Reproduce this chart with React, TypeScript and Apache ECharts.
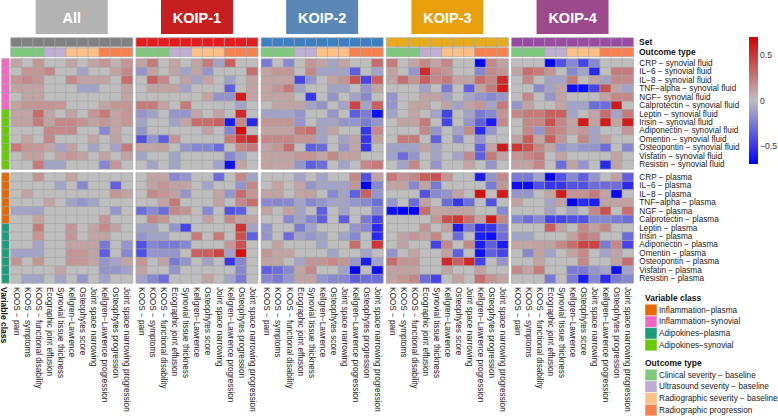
import React, { useEffect, useRef } from 'react';
import * as echarts from 'echarts';

const panels = ['All', 'KOIP-1', 'KOIP-2', 'KOIP-3', 'KOIP-4'];
const columns = [
  'KOOS − pain', 'KOOS − symptoms', 'KOOS − functional disability', 'Ecographic joint effusion',
  'Synovial tissue thickness', 'Kellgren−Lawrence', 'Osteophytes score', 'Joint space narrowing',
  'Kellgren−Lawrence progression', 'Osteophytes progression', 'Joint space narrowing progression',
];
const outcomeTypes = ['Clinical severity − baseline', 'Ultrasound severity − baseline', 'Radiographic severity − baseline', 'Radiographic progression'];
const outcomeTypeOfColumn = [0, 0, 0, 1, 1, 2, 2, 2, 3, 3, 3];
const variableClasses = ['Inflammation−plasma', 'Inflammation−synovial', 'Adipokines−plasma', 'Adipokines−synovial'];
const synovialRows = [
  'CRP − synovial fluid', 'IL−6 − synovial fluid', 'IL−8 − synovial fluid', 'TNF−alpha − synovial fluid',
  'NGF− synovial fluid', 'Calprotectin − synovial fluid', 'Leptin − synovial fluid', 'Irisin − synovial fluid',
  'Adiponectin − synovial fluid', 'Omentin − synovial fluid', 'Osteopontin − synovial fluid',
  'Visfatin − synovial fluid', 'Resistin − synovial fluid',
];
const plasmaRows = [
  'CRP − plasma', 'IL−6 − plasma', 'IL−8 − plasma', 'TNF−alpha − plasma', 'NGF − plasma',
  'Calprotectin − plasma', 'Leptin − plasma', 'Irisin − plasma', 'Adiponectin − plasma',
  'Omentin − plasma', 'Osteopontin − plasma', 'Visfatin − plasma', 'Resistin − plasma',
];
const synovialClass = [1, 1, 1, 1, 1, 1, 3, 3, 3, 3, 3, 3, 3];
const plasmaClass = [0, 0, 0, 0, 0, 0, 2, 2, 2, 2, 2, 2, 2];
const colorTicks = [0.5, 0, -0.5];

const allSynovial = [
  [0.1, 0, 0.15, 0, 0, 0.1, 0, 0.1, 0.15, 0.05, 0.15],
  [0, 0.15, 0.15, 0.2, 0, 0, -0.1, 0, 0, 0.1, 0.2],
  [0.15, 0.2, 0.15, 0, 0, 0.2, 0.1, 0.1, 0.1, 0, 0.3],
  [0.1, 0.1, 0.1, 0, 0, 0, -0.1, -0.1, 0, 0, 0.1],
  [0, 0.1, 0.1, 0, 0, 0, 0, 0, 0, 0, 0.1],
  [0.1, 0.15, 0.15, 0.15, 0.15, 0, 0, 0, 0.1, 0.15, 0.15],
  [0.1, 0.1, 0.3, 0.1, 0, 0.1, 0, 0.15, 0.25, 0.1, 0.15],
  [0.1, 0.1, 0.25, 0.1, 0.2, 0.2, 0.15, 0.1, 0.15, 0.1, 0.15],
  [0, 0, 0, 0.2, 0.2, 0.2, 0, 0, -0.2, 0.1, 0],
  [0, 0.1, 0, 0.2, 0, 0, 0, 0.1, 0, 0.1, 0],
  [0.25, 0.15, 0.15, 0.1, -0.1, 0.1, 0, -0.1, 0, -0.1, 0.25],
  [0, 0.1, 0.1, 0, 0.1, 0.15, 0.1, 0, 0.1, 0, 0.1],
  [0, 0, 0.25, -0.1, -0.1, 0, 0, 0, -0.2, 0.15, 0],
];
const allPlasma = [
  [0, 0, 0.15, 0, 0, 0.1, 0, 0, 0, 0, 0],
  [0, 0, 0, 0, -0.1, 0, -0.2, 0, 0, -0.35, 0],
  [0, 0.1, 0, 0, 0, 0, 0, 0, 0, 0.15, 0.1],
  [0, 0, 0, 0.1, 0, -0.1, -0.15, -0.1, 0, 0, 0],
  [-0.1, -0.1, -0.1, 0, 0, 0, 0, 0, 0, -0.15, 0],
  [0, 0, 0.1, 0, 0, 0, 0, 0, 0.15, 0, 0],
  [0, 0, 0.25, 0, 0, 0.15, 0, 0.1, 0.2, 0.1, 0],
  [0, 0, 0.15, 0, 0, 0.15, 0, 0.1, 0.1, 0, 0],
  [0, 0, -0.1, 0, 0, 0.1, 0.1, 0.1, -0.25, 0, -0.15],
  [-0.1, -0.1, -0.1, 0, 0, 0.15, 0.15, 0.1, -0.35, 0, -0.2],
  [0.15, 0, 0.15, 0, 0, 0.15, 0.15, 0.1, -0.15, -0.1, 0.1],
  [0, 0, 0, 0, 0.1, 0, 0, 0, -0.15, -0.15, -0.1],
  [0, -0.1, -0.1, 0, -0.1, 0, -0.15, 0, -0.1, 0, 0],
];
const koip1Synovial = [
  [0.1, 0.25, 0, 0.1, 0, 0.1, 0.25, -0.1, 0.35, 0, 0],
  [-0.15, 0.1, 0, 0.1, -0.1, 0.1, -0.15, 0, 0, 0, 0.3],
  [0, 0.35, 0.2, 0, 0.1, -0.1, 0.1, 0, -0.1, 0, 0.1],
  [0, 0.1, 0.1, 0.1, -0.1, 0, 0, 0, -0.35, 0, 0.1],
  [0, 0, 0, 0, 0, 0, 0.1, -0.15, -0.15, 0.6, 0.1],
  [0.25, 0.25, 0.1, 0, 0.25, 0, 0, 0, 0, -0.1, 0],
  [-0.15, -0.1, 0, -0.15, -0.15, 0.1, 0, 0.1, 0, 0.55, 0],
  [-0.1, 0, 0, -0.1, 0.1, 0.3, 0.3, 0.35, -0.6, 0.2, -0.55],
  [-0.15, 0, 0, 0, 0, 0, 0.1, 0, -0.2, 0.65, 0],
  [-0.4, -0.15, -0.35, 0.15, 0, 0, 0, 0, 0.25, 0.5, 0.55],
  [0.1, 0.1, 0.1, 0, -0.15, -0.2, -0.2, -0.3, 0, 0.2, 0.25],
  [-0.1, 0, 0, -0.1, 0, 0, 0, 0, -0.2, -0.1, 0],
  [0, -0.1, 0, -0.1, 0, 0, 0, -0.1, -0.65, 0.1, 0],
];
const koip1Plasma = [
  [0, 0.1, 0.1, -0.2, -0.15, 0, 0, -0.3, 0, 0.2, -0.1],
  [0, 0.1, 0.15, 0.1, 0.1, 0, -0.1, 0, 0, -0.15, 0.2],
  [0, 0.2, 0.15, 0.1, -0.15, 0, 0, 0.1, -0.15, 0.3, 0.15],
  [0, 0, 0.1, 0.25, 0, 0, 0, 0.1, 0, 0.2, 0.3],
  [-0.3, -0.2, -0.3, 0.2, 0.15, 0, -0.2, 0, -0.4, -0.35, 0],
  [0, 0.2, 0.15, 0, 0, 0, 0.1, 0, 0.2, 0.1, 0.1],
  [-0.1, -0.1, 0, -0.15, -0.45, 0, 0, 0, 0, 0.5, -0.1],
  [-0.15, -0.1, -0.1, 0, 0, 0.25, 0, 0.25, 0, 0.4, -0.35],
  [-0.4, -0.2, -0.25, -0.25, -0.2, 0, 0, 0, 0.15, 0.4, 0],
  [-0.4, -0.15, -0.15, -0.15, 0, 0.35, 0.35, 0.45, -0.1, 0.65, 0],
  [0.15, 0, 0.1, -0.25, -0.15, 0, -0.1, 0, -0.5, -0.2, 0],
  [0.1, 0, 0, -0.15, 0, 0, 0, 0, 0, -0.2, 0],
  [-0.1, -0.2, -0.3, 0, 0, 0, 0.1, 0, -0.1, -0.25, 0],
];
const koip2Synovial = [
  [-0.25, 0, -0.2, 0, 0.15, 0.1, -0.1, 0.1, 0, 0, 0.3],
  [0.1, 0.15, 0.15, 0, 0.2, -0.1, -0.1, -0.1, -0.35, 0, -0.1],
  [0.1, 0.1, 0.1, -0.45, -0.15, 0, 0.1, 0.15, 0.4, -0.45, 0.35],
  [0.1, 0.15, 0.25, -0.1, 0, 0, -0.1, -0.1, 0, -0.15, 0.1],
  [0.1, 0.1, 0.1, 0, -0.5, 0, -0.15, 0, -0.1, -0.2, 0],
  [0, 0.1, 0.1, 0.1, -0.1, -0.15, 0, -0.1, 0.45, -0.1, 0.35],
  [-0.1, -0.1, -0.1, -0.15, 0, 0, -0.15, 0, -0.35, -0.25, -0.65],
  [0.15, 0.15, 0.15, -0.15, 0, -0.1, -0.1, -0.15, -0.15, -0.25, -0.15],
  [0.1, 0.1, 0.1, 0.25, 0.3, -0.1, 0.1, 0, 0, -0.5, 0.2],
  [0.2, 0.2, 0.2, 0.15, 0.15, -0.1, 0, -0.1, 0.1, -0.5, 0.1],
  [0.1, 0.15, 0.3, 0, -0.35, -0.3, 0, -0.15, 0.1, -0.5, 0],
  [0.1, 0.1, 0.1, 0.15, 0.15, 0.1, 0.2, 0.1, 0.1, 0, 0],
  [0.1, 0.1, 0.1, -0.15, -0.35, -0.3, 0, -0.1, 0, 0.2, 0.25],
];
const koip2Plasma = [
  [0, 0, 0, -0.1, 0, -0.1, 0, 0, 0.2, -0.4, 0.1],
  [0, 0.1, 0, 0.1, -0.15, -0.1, -0.1, -0.1, 0.15, -0.7, -0.2],
  [0.1, 0.1, 0, 0.1, 0.1, 0, -0.2, -0.1, -0.35, 0.35, -0.15],
  [-0.2, -0.2, -0.2, -0.1, -0.2, -0.15, -0.1, -0.1, -0.15, -0.2, -0.3],
  [0.1, 0, 0.1, -0.1, 0, -0.35, 0, -0.1, 0, 0, -0.2],
  [0, 0, -0.2, -0.1, -0.2, -0.35, 0, -0.35, 0, -0.25, -0.45],
  [-0.15, 0, 0, -0.25, -0.1, 0, 0, 0, -0.15, -0.2, -0.55],
  [-0.15, 0, -0.3, -0.1, -0.15, -0.1, 0, -0.1, -0.2, 0, -0.55],
  [0, 0.1, 0, 0, 0, -0.1, 0, 0, 0.3, 0, 0.5],
  [0.15, 0.1, 0.1, 0, 0, 0, -0.1, 0, 0, -0.1, 0],
  [0.1, 0.1, 0, -0.1, 0.15, 0.15, 0.2, 0.15, -0.15, -0.6, -0.1],
  [-0.35, -0.3, -0.2, 0.1, 0.2, 0, 0, -0.1, -0.7, 0, -0.65],
  [-0.2, -0.25, -0.15, 0.1, 0.1, -0.15, -0.2, -0.2, -0.35, -0.3, -0.3],
];
const koip3Synovial = [
  [0.25, 0, 0.1, 0.2, 0.1, 0.2, 0, 0, -0.7, 0.2, 0.1],
  [0.1, 0, -0.15, 0.55, 0.2, 0.15, 0, 0, -0.2, 0.2, 0.15],
  [0.1, 0.3, 0.15, 0.35, 0.2, 0.25, 0.1, 0.1, 0.3, 0.2, 0.55],
  [0, 0, 0, -0.1, 0, -0.25, 0, -0.35, 0.1, 0.25, 0.6],
  [-0.15, 0, 0, 0.1, 0.1, -0.1, 0, -0.1, -0.15, -0.2, -0.15],
  [-0.15, 0, 0.1, 0.1, 0, 0.1, -0.1, 0.1, 0.15, -0.1, 0.25],
  [-0.1, 0, 0.1, 0, -0.1, -0.45, 0, -0.1, -0.25, -0.2, 0.15],
  [0, 0.1, 0.1, 0.25, 0, -0.45, 0, -0.15, -0.35, -0.6, 0.2],
  [0, 0, 0, 0.2, -0.15, 0, -0.1, 0.2, -0.55, -0.15, 0],
  [0, 0.25, 0.25, 0, -0.35, 0, -0.2, 0, -0.15, 0, 0],
  [-0.1, -0.1, -0.1, 0.1, -0.1, 0, 0, 0, -0.35, 0.1, 0.6],
  [-0.1, -0.3, -0.15, 0, -0.1, 0, -0.1, 0.2, -0.35, 0.25, 0.1],
  [0, -0.1, 0.2, 0, -0.15, 0, 0, 0.1, 0, -0.15, 0],
];
const koip3Plasma = [
  [0.25, 0.15, 0.2, 0.35, 0.4, 0.15, 0, 0, -0.6, -0.15, 0.2],
  [0.1, 0.1, -0.2, 0.1, -0.25, 0, 0, 0, 0, -0.25, 0.15],
  [0, 0, 0, -0.4, -0.2, -0.15, 0.1, 0, 0.65, 0, 0.6],
  [-0.15, 0, -0.3, 0.1, 0, -0.3, -0.5, -0.3, 0, -0.4, 0],
  [-0.65, -0.7, -0.7, 0.3, 0.1, 0.1, 0.1, 0.1, 0, 0, -0.2],
  [0, 0, 0, 0, 0.15, 0.4, 0.5, 0.3, 0.1, 0.6, 0.2],
  [0, 0, 0, 0.15, 0, 0.1, -0.6, -0.25, -0.55, -0.5, -0.25],
  [0, 0.1, 0.15, 0.1, 0.2, 0, -0.3, 0, -0.6, -0.65, -0.3],
  [0, 0.1, 0, 0, -0.45, 0.2, 0, 0.2, -0.6, -0.35, -0.6],
  [-0.15, 0, 0.1, 0, 0, 0.1, -0.35, 0, -0.65, -0.35, -0.45],
  [0.3, 0.15, 0.15, 0, 0, 0.55, 0.35, 0.55, -0.45, 0, -0.15],
  [0.1, 0.1, 0.1, 0, 0, 0.1, 0, 0, 0.1, 0, 0],
  [0.1, 0.15, 0.2, -0.3, -0.45, 0, 0.1, 0, 0.3, 0.15, 0.1],
];
const koip4Synovial = [
  [0, 0, 0, -0.7, -0.4, -0.2, -0.45, -0.2, 0, 0, 0],
  [0.1, 0.3, 0.25, 0.15, 0, -0.2, -0.1, -0.55, 0, 0.25, 0.25],
  [0, 0.2, 0, -0.1, -0.1, 0.25, 0, 0.1, -0.1, 0.2, 0.2],
  [0, 0, -0.2, -0.1, 0.1, -0.65, -0.65, -0.45, 0.4, 0.1, -0.1],
  [0, 0.2, 0, -0.15, 0.1, 0, 0, 0, 0.1, 0.2, 0.2],
  [-0.15, 0.1, 0, 0, 0.1, -0.1, -0.1, -0.3, -0.3, 0.6, 0],
  [0.2, 0.25, 0.25, 0.35, 0.35, -0.1, 0, 0.1, 0.3, -0.1, 0.25],
  [0, 0.2, 0.2, 0.4, 0.2, 0.1, 0.6, 0.1, 0.6, 0.1, 0.6],
  [0, 0.2, -0.15, 0.25, 0.2, 0.1, 0.15, -0.1, 0, 0, 0.15],
  [0.1, 0.35, 0.1, 0.35, 0.15, 0, 0.2, -0.1, 0.1, 0, 0],
  [0.5, 0.4, 0.2, 0.1, -0.15, -0.1, -0.15, -0.15, -0.3, 0, -0.2],
  [0.15, 0.2, 0.25, 0, 0.1, 0, 0, 0, 0, 0.1, 0],
  [0.1, 0.1, 0.2, 0, -0.3, 0.1, -0.15, 0, -0.55, 0.1, 0],
];
const koip4Plasma = [
  [-0.25, -0.25, -0.1, -0.7, -0.4, -0.2, -0.35, -0.15, 0, 0.1, -0.35],
  [-0.65, -0.65, -0.4, -0.5, -0.5, -0.4, -0.4, -0.3, -0.3, -0.3, -0.55],
  [-0.15, -0.15, 0, 0.1, 0.6, 0.15, 0.15, 0.25, 0.1, -0.7, 0],
  [0.1, 0, 0, -0.1, 0.1, -0.7, -0.55, -0.6, 0.1, 0.1, 0.1],
  [0, 0, 0, -0.1, 0, -0.1, 0, 0.2, 0.4, 0, 0.3],
  [-0.2, -0.3, -0.2, -0.45, -0.45, -0.4, -0.4, -0.2, -0.2, -0.25, -0.3],
  [0, 0, 0, 0.35, 0.1, 0, 0.2, 0.1, 0.2, 0, 0],
  [-0.1, -0.1, 0, 0, 0, 0.1, 0.25, 0.2, 0, 0, -0.3],
  [0.1, 0.1, 0.1, 0.1, 0.2, 0.3, 0.45, 0.45, -0.25, 0.2, -0.45],
  [0, -0.2, 0.1, -0.1, 0, 0.1, 0.2, 0, -0.1, 0.1, 0],
  [0, 0, 0.1, 0, 0, 0, 0.2, 0, 0, 0.1, 0.3],
  [0.2, 0.1, 0.25, 0, 0, -0.25, -0.25, -0.15, -0.1, -0.65, -0.1],
  [0, 0, 0, -0.25, 0, -0.25, -0.6, -0.2, -0.55, -0.25, -0.2],
];

const synovialData = [allSynovial, koip1Synovial, koip2Synovial, koip3Synovial, koip4Synovial];
const plasmaData = [allPlasma, koip1Plasma, koip2Plasma, koip3Plasma, koip4Plasma];

// styles
const FONT = 'Liberation Sans, Arial, Helvetica, sans-serif';
const LABEL_SIZE = 8.2;
const titleColors = ['#b3b3b3', '#c5201f', '#5a87b5', '#e7a00c', '#9d4a8d'];
const setColors = ['#808080', '#e41a1c', '#3d7fc0', '#e8ab1b', '#9a4aa3'];
const outcomeColors = ['#7fc97f', '#beaed4', '#fdc086', '#f8804e'];
const classColors = ['#e66a00', '#f564c2', '#1b9e77', '#66cc00'];
const BORDER = '#a8a8a8';

function buildOption() {
  const grid: any[] = [];
  const xAxis: any[] = [];
  const yAxis: any[] = [];
  const series: any[] = [];
  const valueSeries: number[] = [];
  const catSeries: number[] = [];

  const addHeat = (
    left: number, top: number, width: number, height: number,
    xData: string[], yData: string[], data: any[], kind: 'value' | 'cat',
    showX: boolean, showY: boolean
  ) => {
    const idx = grid.length;
    grid.push({ left, top, width, height, containLabel: false });
    xAxis.push({
      type: 'category', gridIndex: idx, data: xData, show: showX,
      axisLine: { show: false }, axisTick: { show: false }, splitLine: { show: false },
      axisLabel: { rotate: -90, interval: 0, fontSize: LABEL_SIZE, color: '#222', margin: 4, fontFamily: FONT },
    });
    yAxis.push({
      type: 'category', gridIndex: idx, data: yData, inverse: true, show: showY, position: 'right',
      axisLine: { show: false }, axisTick: { show: false }, splitLine: { show: false },
      axisLabel: { interval: 0, fontSize: LABEL_SIZE, color: '#222', margin: 6, fontFamily: FONT },
    });
    if (kind === 'value') valueSeries.push(series.length); else catSeries.push(series.length);
    series.push({
      type: 'heatmap', xAxisIndex: idx, yAxisIndex: idx, data, silent: true,
      itemStyle: { borderColor: BORDER, borderWidth: 0.7 },
      emphasis: { disabled: true }, progressive: 0,
    });
  };

  const step = 125.2;
  const pw = 121.5;
  const synTop = 59;
  const plaTop = 173;
  const blockH = 110;
  const colIdx = columns.map((_, i) => String(i));

  panels.forEach((p, pi) => {
    const left = 11 + pi * step;
    const last = pi === panels.length - 1;
    addHeat(left, 38, pw, 8.5, colIdx, ['Set'],
      columns.map((_, c) => [c, 0, pi]), 'cat', false, false);
    addHeat(left, 48, pw, 8.5, colIdx, ['Outcome type'],
      columns.map((_, c) => [c, 0, 5 + outcomeTypeOfColumn[c]]), 'cat', false, false);
    const syn: any[] = [];
    synovialData[pi].forEach((row, r) => row.forEach((v, c) => syn.push([c, r, v])));
    addHeat(left, synTop, pw, blockH, columns, synovialRows, syn, 'value', false, last);
    const pla: any[] = [];
    plasmaData[pi].forEach((row, r) => row.forEach((v, c) => pla.push([c, r, v])));
    addHeat(left, plaTop, pw, blockH, columns, plasmaRows, pla, 'value', true, last);
  });
  addHeat(2, synTop, 7, blockH, ['Variable class'], synovialRows,
    synovialClass.map((k, r) => [0, r, 9 + k]), 'cat', false, false);
  addHeat(2, plaTop, 7, blockH, ['Variable class'], plasmaRows,
    plasmaClass.map((k, r) => [0, r, 9 + k]), 'cat', false, false);

  const catPieces: any[] = [];
  setColors.forEach((c, i) => catPieces.push({ value: i, color: c }));
  outcomeColors.forEach((c, i) => catPieces.push({ value: 5 + i, color: c }));
  classColors.forEach((c, i) => catPieces.push({ value: 9 + i, color: c }));

  const graphic: any[] = [];
  panels.forEach((p, pi) => {
    const cx = 11 + pi * step + pw / 2;
    graphic.push({ type: 'rect', shape: { x: cx - 36, y: 0, width: 72, height: 34 }, style: { fill: titleColors[pi] }, silent: true });
    graphic.push({
      type: 'text', x: cx, y: 18, silent: true,
      style: { text: p, fill: '#ffffff', font: `bold 14.5px ${FONT}`, textAlign: 'center', textVerticalAlign: 'middle' },
    });
  });
  const boldText = (text: string, x: number, y: number, extra: any = {}) => ({
    type: 'text', x, y, silent: true, ...extra,
    style: { text, fill: '#111', font: `bold 8.5px ${FONT}`, textAlign: 'left', textVerticalAlign: 'middle' },
  });
  graphic.push(boldText('Set', 639, 42.3));
  graphic.push(boldText('Outcome type', 639, 52.3));
  graphic.push(boldText('Variable class', 4, 287, { rotation: -Math.PI / 2 }));

  graphic.push(boldText('Variable class', 645, 297.5));
  variableClasses.forEach((name, k) => {
    const yc = 310 + k * 11.7;
    graphic.push({ type: 'rect', silent: true, shape: { x: 645, y: yc - 5.8, width: 12, height: 11.6 }, style: { fill: classColors[k], stroke: '#ffffff', lineWidth: 0.5 } });
    graphic.push({ type: 'text', silent: true, x: 659, y: yc, style: { text: name, fill: '#222', font: `${LABEL_SIZE}px ${FONT}`, textAlign: 'left', textVerticalAlign: 'middle' } });
  });
  graphic.push(boldText('Outcome type', 645, 363.3));
  outcomeTypes.forEach((t, i) => {
    const yc = 375 + i * 11.7;
    graphic.push({ type: 'rect', silent: true, shape: { x: 645, y: yc - 5.8, width: 12, height: 11.6 }, style: { fill: outcomeColors[i], stroke: '#ffffff', lineWidth: 0.5 } });
    graphic.push({ type: 'text', silent: true, x: 659, y: yc, style: { text: t, fill: '#222', font: `${LABEL_SIZE}px ${FONT}`, textAlign: 'left', textVerticalAlign: 'middle' } });
  });

  const barTop = 37, barH = 127, vMax = 0.7, vMin = -0.7;
  graphic.push({
    type: 'rect', silent: true, shape: { x: 749, y: barTop, width: 9, height: barH },
    style: {
      fill: new echarts.graphic.LinearGradient(0, 0, 0, 1, [
        { offset: 0, color: '#d40000' }, { offset: 0.5, color: '#bebebe' }, { offset: 1, color: '#0000ff' },
      ]),
    },
  });
  colorTicks.forEach((v) => {
    const y = barTop + ((vMax - v) / (vMax - vMin)) * barH;
    graphic.push({
      type: 'text', silent: true, x: 760, y,
      style: { text: v === 0 ? '0' : v < 0 ? '−' + String(-v) : String(v), fill: '#333', font: `8.6px ${FONT}`, textAlign: 'left', textVerticalAlign: 'middle' },
    });
  });

  return {
    animation: false,
    backgroundColor: '#ffffff',
    textStyle: { fontFamily: FONT },
    grid, xAxis, yAxis, series, graphic,
    visualMap: [
      {
        type: 'continuous', show: false, min: vMin, max: vMax, seriesIndex: valueSeries,
        inRange: { color: ['#0000ff', '#bebebe', '#d40000'] },
      },
      {
        type: 'piecewise', show: false, seriesIndex: catSeries, pieces: catPieces,
      },
    ],
  };
}

export default function App() {
  const ref = useRef<HTMLDivElement>(null);
  useEffect(() => {
    if (!ref.current) return;
    const chart = echarts.init(ref.current, undefined, { renderer: 'svg' });
    chart.setOption(buildOption() as any);
    return () => chart.dispose();
  }, []);
  return <div ref={ref} style={{ position: 'fixed', left: 0, top: 0, width: 778, height: 416 }} />;
}
